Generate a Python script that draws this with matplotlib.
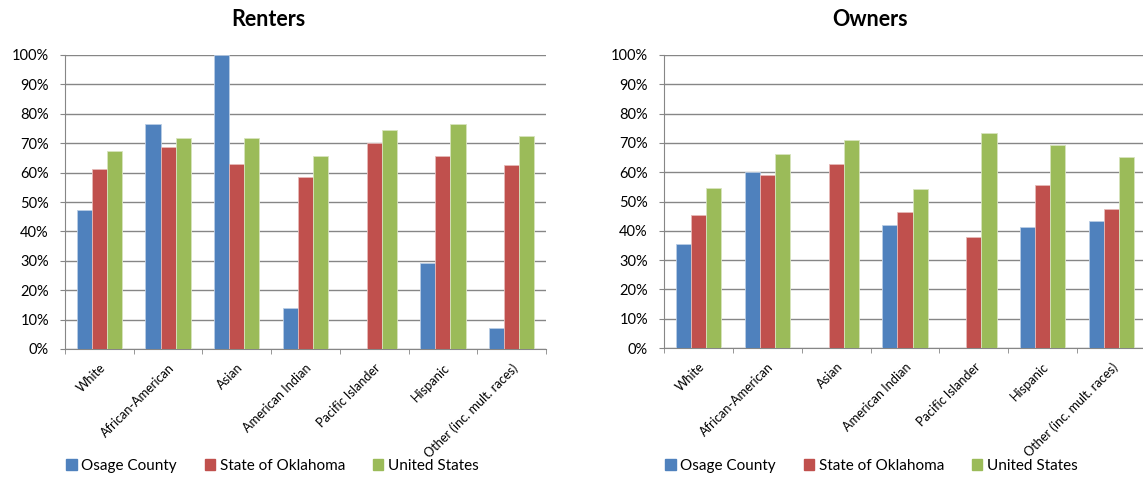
import numpy as np
import matplotlib.pyplot as plt
from matplotlib.patches import Patch

plt.rcParams['font.family'] = ['Lato', 'DejaVu Sans']

categories = ["White", "African-American", "Asian", "American Indian",
              "Pacific Islander", "Hispanic", "Other (inc. mult. races)"]
series_names = ["Osage County", "State of Oklahoma", "United States"]
colors = ["#4F81BD", "#C0504D", "#9BBB59"]
edges = ["#B9CDE5", "#E6B9B8", "#D7E4BD"]

# renter values (%)
renters_osage = [47.3, 76.5, 100.0, 14.1, 0.0, 29.4, 7.2]
renters_ok = [61.1, 68.6, 62.8, 58.5, 70.1, 65.7, 62.7]
renters_us = [67.3, 71.6, 71.6, 65.6, 74.6, 76.4, 72.3]

# owner values (%)
owners_osage = [35.5, 59.9, 0.0, 41.9, 0.0, 41.4, 43.2]
owners_ok = [45.3, 59.0, 62.8, 46.3, 37.8, 55.7, 47.6]
owners_us = [54.7, 66.2, 71.0, 54.2, 73.5, 69.3, 65.3]

yticks = list(range(0, 101, 10))
ytick_labels = [f"{v}%" for v in yticks]

fig = plt.figure(figsize=(11.43, 4.78), dpi=100)
ax1 = fig.add_axes([65/1143, 129/478, 481/1143, 294/478])
ax2 = fig.add_axes([664/1143, 130/478, 482/1143, 293/478])


def draw(ax, vals, title, title_x, legend_x):
    x = np.arange(len(categories))
    w = 0.22
    for i, v in enumerate(vals):
        ax.bar(x + (i - 1) * w, v, w, color=colors[i], edgecolor=edges[i],
               linewidth=0.6, zorder=3)
    ax.set_xlim(-0.5, len(categories) - 0.5)
    ax.set_ylim(0, 100)
    ax.set_yticks(yticks)
    ax.set_yticklabels(ytick_labels, fontsize=10.5)
    ax.yaxis.grid(True, color="#868686", linewidth=1, zorder=0)
    ax.set_xticks(x)
    ax.set_xticklabels(categories, rotation=45, ha="right",
                       rotation_mode="anchor", fontsize=9.2)
    ax.set_xticks(np.arange(-0.5, len(categories)), minor=True)
    ax.tick_params(axis="x", which="major", length=0, pad=9)
    ax.tick_params(axis="x", which="minor", length=3.6, color="#868686")
    ax.tick_params(axis="y", length=3.6, color="#868686", pad=8)
    for s in ["top", "right"]:
        ax.spines[s].set_visible(False)
    for s in ["left", "bottom"]:
        ax.spines[s].set_color("#868686")
    fig.text(title_x, 1 - 19/478, title, ha="center", va="center",
             fontsize=15.5, fontweight="bold")
    handles = [Patch(facecolor=c, edgecolor=c) for c in colors]
    fig.legend(handles, series_names, loc="center left",
               bbox_to_anchor=(legend_x, 1 - 466/478), ncol=3, frameon=False,
               fontsize=11, handlelength=0.7, handleheight=0.7,
               handletextpad=0.3, columnspacing=1.8, borderaxespad=0)


draw(ax1, [renters_osage, renters_ok, renters_us], "Renters", 268/1143, 60/1143)
draw(ax2, [owners_osage, owners_ok, owners_us], "Owners", 870/1143, 659/1143)

fig.savefig("out.png", dpi=100)
